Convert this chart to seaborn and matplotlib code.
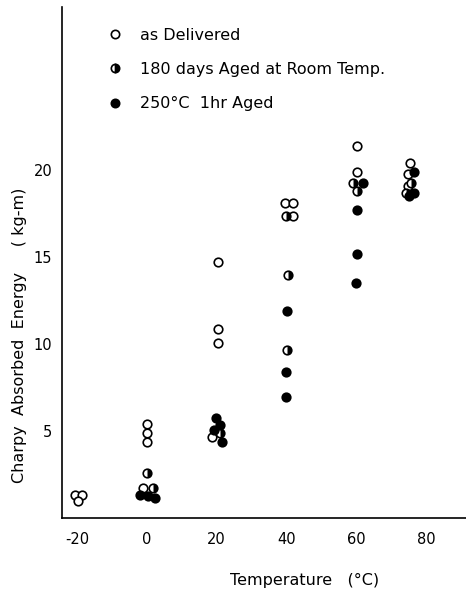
import matplotlib
matplotlib.use("Agg")
import matplotlib.pyplot as plt
from matplotlib.markers import MarkerStyle
from matplotlib.lines import Line2D
import seaborn as sns
import pandas as pd

# as delivered (open circles)
open_x = [-20.6, -18.6, -19.7, 0.2, 0.2, 0.2, -1.0, 20.3, 20.3, 20.3, 18.8,
          39.5, 41.8, 41.8, 60.3, 60.3, 75.5, 74.9, 74.9]
open_y = [1.3, 1.3, 0.95, 5.4, 4.9, 4.4, 1.7, 14.75, 10.9, 10.05, 4.65,
          18.1, 18.1, 17.4, 21.4, 19.9, 20.45, 19.8, 19.1]
# 180 days aged at room temp (half-filled circles)
half_x = [0.2, 1.8, 21.0, 39.8, 40.5, 40.3, 59.2, 60.3, 75.6, 74.3]
half_y = [2.6, 1.7, 4.9, 17.4, 14.0, 9.65, 19.25, 18.8, 19.3, 18.7]
# 250 C 1hr aged (filled circles)
fill_x = [-1.8, 0.3, 2.5, 19.8, 21.0, 19.2, 21.5, 40.3, 40.0, 40.0,
          62.0, 60.3, 60.3, 60.0, 76.5, 76.5, 75.2]
fill_y = [1.3, 1.25, 1.15, 5.75, 5.35, 5.05, 4.4, 11.9, 8.4, 6.95,
          19.25, 17.7, 15.2, 13.5, 19.9, 18.7, 18.55]

x_ticks = [-20, 0, 20, 40, 60, 80]
y_ticks = [5, 10, 15, 20]
labels = ["as Delivered", "180 days Aged at Room Temp.", "250\u00b0C  1hr Aged"]

sns.set_style("white")
plt.rcParams['font.family'] = ['DejaVu Sans']
plt.rcParams['axes.unicode_minus'] = False
plt.rcParams['text.color'] = 'black'

fig = plt.figure(figsize=(4.66, 5.92), dpi=100)
ax = fig.add_axes([0.133, 0.125, 0.867, 0.863])

ms = 38
lw = 1.2
df_o = pd.DataFrame({"x": open_x, "y": open_y})
df_h = pd.DataFrame({"x": half_x, "y": half_y})
df_f = pd.DataFrame({"x": fill_x, "y": fill_y})

sns.scatterplot(data=df_o, x="x", y="y", ax=ax, s=ms, marker="o",
                facecolor="white", edgecolor="black", linewidth=lw, zorder=3)
sns.scatterplot(data=df_h, x="x", y="y", ax=ax, s=ms, marker="o",
                facecolor="white", edgecolor="black", linewidth=lw, zorder=3)
sns.scatterplot(data=df_h, x="x", y="y", ax=ax, s=ms,
                marker=MarkerStyle("o", fillstyle="right"),
                color="black", edgecolor="black", linewidth=0, zorder=4)
sns.scatterplot(data=df_f, x="x", y="y", ax=ax, s=ms, marker="o",
                color="black", edgecolor="black", linewidth=lw, zorder=5)

ax.set_xlim(-24.3, 91.5)
ax.set_ylim(0, 29.4)
ax.set_xticks(x_ticks)
ax.set_yticks(y_ticks)
ax.set_xlabel("")
ax.set_ylabel("")
for s in ["top", "right"]:
    ax.spines[s].set_visible(False)
for s in ["left", "bottom"]:
    ax.spines[s].set_color("black")
    ax.spines[s].set_linewidth(1.2)
ax.tick_params(direction="in", length=4, width=1.2, colors="black",
               labelcolor="black", labelsize=10.5)
ax.tick_params(axis="x", pad=10)
ax.tick_params(axis="y", pad=7)

handles = [
    Line2D([], [], ls="none", marker="o", ms=6, mfc="white", mec="black", mew=lw),
    Line2D([], [], ls="none", marker="o", ms=6, mfc="black", mfcalt="white",
           fillstyle="right", mec="black", mew=lw),
    Line2D([], [], ls="none", marker="o", ms=6, mfc="black", mec="black", mew=lw),
]
leg = ax.legend(handles, labels, loc="upper left", bbox_to_anchor=(0.095, 0.972),
                frameon=False, fontsize=11.5, labelspacing=1.2, handlelength=1.0,
                handletextpad=1.1, borderaxespad=0)
for t in leg.get_texts():
    t.set_color("black")

fig.text(20 / 466, 1 - 335 / 592, "Charpy  Absorbed  Energy     ( kg-m)",
         rotation=90, ha="center", va="center", fontsize=11.5, color="black")
fig.text(305 / 466, 1 - 580 / 592, "Temperature   (\u00b0C)",
         ha="center", va="center", fontsize=11.5, color="black")

fig.savefig("out.png", dpi=100)
